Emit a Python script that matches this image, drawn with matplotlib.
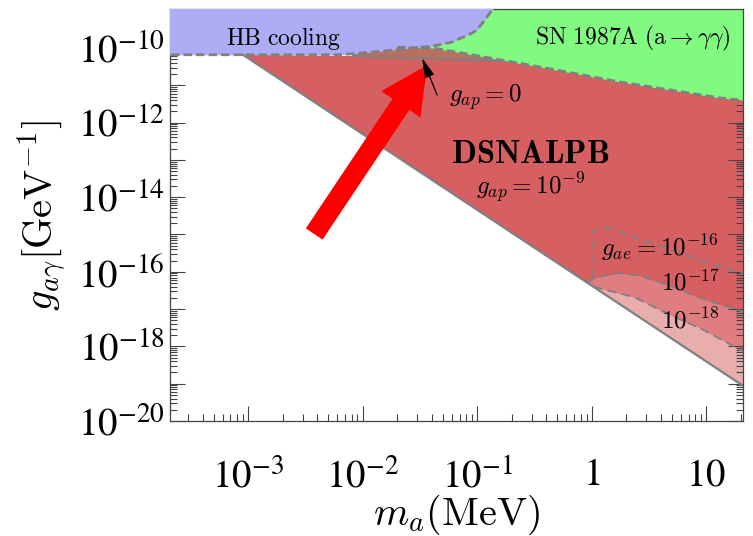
import numpy as np
import matplotlib
matplotlib.use("Agg")
import matplotlib.pyplot as plt
from matplotlib.ticker import LogLocator, FuncFormatter, NullFormatter

plt.rcParams["mathtext.fontset"] = "stix"
plt.rcParams["font.family"] = "STIXGeneral"

# axion mass (MeV) / photon coupling (GeV^-1) limits
M_MIN, M_MAX = 2.08e-4, 20.9
G_MIN, G_MAX = 1e-20, 1.09e-9

# HB cooling: lower edge of the excluded band
hb_m = [1e-4, 6.35e-3, 0.0123, 0.0244, 0.0411, 0.0603, 0.0865, 0.0996, 0.157]
hb_g = [6.6e-11, 6.6e-11, 7.8e-11, 9.7e-11, 1.13e-10, 1.45e-10, 2.37e-10, 3.04e-10, 1.94e-9]

# SN 1987A (a -> gamma gamma): lower edge
sn_m = [0.02, 0.0411, 0.0918, 0.182, 0.353, 1.76, 13.1, 30.0]
sn_g = [1.05e-10, 1.0e-10, 6.5e-11, 4.48e-11, 3.1e-11, 1.23e-11, 4.6e-12, 3.5e-12]

# DSNALPB reach: g_ap = 0 upper edge and the g_ap = 1e-9 diagonal
gap0_m = [8.24e-3, 0.0387, 0.158, 0.3]
gap0_g = [6.1e-11, 5.2e-11, 4.6e-11, 4.2e-11]
red_top_m = [9.0e-4, 8.24e-3, 0.0387, 0.158, 30.0]
red_top_g = [6.6e-11, 6.1e-11, 5.2e-11, 4.6e-11, 2.5e-11]
diag_m = [9.0e-4, 30.0]
diag_g = [6.6e-11, 4.2e-20]

# g_ae contours
gae16_m = [1.035, 1.035, 1.36, 3.29, 9.2, 19.2, 25.0]
gae16_g = [6.7e-17, 1.26e-15, 1.55e-15, 6.0e-16, 1.94e-16, 9.9e-17, 7.8e-17]
gae17_m = [0.917, 1.035, 1.67, 2.51, 4.63, 9.16, 19.4, 25.0]
gae17_g = [5.0e-17, 6.7e-17, 9.2e-17, 8.2e-17, 4.4e-17, 1.9e-17, 9.2e-18, 7.1e-18]
gae18_m = [1.035, 2.34, 4.63, 9.16, 19.4, 25.0]
gae18_g = [3.95e-17, 2.1e-17, 7.4e-18, 2.9e-18, 8.3e-19, 5.4e-19]

C_BLUE = "#adadf6"
C_GREEN = "#80fa80"
C_RED = "#d65f62"
C_RED2 = "#df7d80"
C_RED3 = "#e8adad"
C_BROWN = "#b9705f"
C_LINE = "#808080"


def diag_at(m):
    """g on the g_ap = 1e-9 diagonal (straight line in log-log)."""
    return 10 ** np.interp(np.log10(m), np.log10(diag_m), np.log10(diag_g))


fig = plt.figure(figsize=(7.53, 5.36), dpi=100)
ax = fig.add_axes([0.2258, 0.2146, 0.761, 0.768])
ax.set_xscale("log")
ax.set_yscale("log")

# DSNALPB main region
poly_m = list(red_top_m) + list(diag_m[::-1])
poly_g = list(red_top_g) + list(diag_g[::-1])
ax.fill(poly_m, poly_g, color=C_RED, lw=0, zorder=1)

# lighter bands for smaller g_ae
ax.fill_between(gae17_m, gae17_g, diag_at(gae17_m), color=C_RED2, lw=0, zorder=1.1)
ax.fill_between(gae18_m, gae18_g, diag_at(gae18_m), color=C_RED3, lw=0, zorder=1.2)

# sliver above the g_ap = 0 edge
ax.fill_between(gap0_m, gap0_g, 1.3e-10, color=C_BROWN, lw=0, zorder=1.3)
ax.plot(gap0_m, gap0_g, color=C_LINE, lw=1.6, zorder=1.4)

# SN 1987A and HB cooling
ax.fill_between(sn_m, sn_g, 1e-8, color=C_GREEN, lw=0, zorder=2)
ax.fill_between(hb_m, hb_g, 1e-8, color=C_BLUE, lw=0, zorder=3)
ax.plot(sn_m, sn_g, color=C_LINE, lw=2.0, ls=(0, (3, 1.5)), zorder=4)
ax.plot(hb_m, hb_g, color=C_LINE, lw=2.0, ls=(0, (3, 1.5)), zorder=4)

# contours and diagonal edge
for cm, cg in [(gae16_m, gae16_g), (gae17_m, gae17_g), (gae18_m, gae18_g)]:
    ax.plot(cm, cg, color=C_LINE, lw=1.3, ls=(0, (5, 3)), zorder=4)
ax.plot(diag_m, diag_g, color=C_LINE, lw=1.6, zorder=4)

ax.set_xlim(M_MIN, M_MAX)
ax.set_ylim(G_MIN, G_MAX)

# labels on the plot
tkw = dict(math_fontfamily="cm", ha="center", va="center", zorder=5)
ax.text(2.02e-3, 1.85e-10, r"$\mathrm{HB\ cooling}$", fontsize=17, **tkw)
ax.text(2.29, 1.86e-10, r"$\mathrm{SN\ 1987A\ (a}\rightarrow\gamma\gamma)$", fontsize=17, **tkw)
ax.text(0.119, 4.85e-12, r"$g_{ap}=0$", fontsize=18, **tkw)
ax.text(0.289, 1.35e-13, r"$\mathbf{DSNALPB}$", fontsize=23.5, **tkw)
ax.text(0.295, 1.8e-14, r"$g_{ap}=10^{-9}$", fontsize=18, **tkw)
ax.text(3.94, 4.4e-16, r"$g_{ae}=10^{-16}$", fontsize=18, **tkw)
ax.text(7.2, 5.0e-17, r"$10^{-17}$", fontsize=18, **tkw)
ax.text(7.2, 4.5e-18, r"$10^{-18}$", fontsize=18, **tkw)

# arrows
ax.annotate("", xy=(0.0365, 3.5e-11), xytext=(3.77e-3, 1.03e-15),
            arrowprops=dict(arrowstyle="simple,head_length=3.4,head_width=3.4,tail_width=1.45",
                            mutation_scale=10, color="red", lw=0,
                            shrinkA=0, shrinkB=0), zorder=6)
ax.annotate("", xy=(0.033, 5.4e-11), xytext=(0.0446, 5.5e-12),
            arrowprops=dict(arrowstyle="-|>,head_length=1.2,head_width=0.3",
                            mutation_scale=10, color="black", lw=0.9,
                            shrinkA=0, shrinkB=0), zorder=6)


# ticks
def x_fmt(v, pos):
    e = int(round(np.log10(v)))
    if e == 0:
        return r"$1$"
    if e == 1:
        return r"$10$"
    return r"$10^{%d}$" % e


def y_fmt(v, pos):
    e = int(round(np.log10(v)))
    return r"$10^{%d}$" % e if e % 2 == 0 else ""


ax.xaxis.set_major_locator(LogLocator(base=10, numticks=20))
ax.xaxis.set_minor_locator(LogLocator(base=10, subs=np.arange(2, 10), numticks=20))
ax.xaxis.set_major_formatter(FuncFormatter(x_fmt))
ax.xaxis.set_minor_formatter(NullFormatter())
ax.yaxis.set_major_locator(LogLocator(base=10, numticks=30))
ax.yaxis.set_minor_locator(LogLocator(base=10, subs=np.arange(2, 10), numticks=30))
ax.yaxis.set_major_formatter(FuncFormatter(y_fmt))
ax.yaxis.set_minor_formatter(NullFormatter())

ax.tick_params(which="both", direction="in", top=True, right=True, color="#444444", width=0.8)
ax.tick_params(which="major", length=11, labelsize=28)
ax.tick_params(which="minor", length=5)
ax.tick_params(axis="x", which="major", pad=27)
ax.tick_params(axis="y", which="major", pad=4)
for s in ax.spines.values():
    s.set_color("#444444")
    s.set_linewidth(0.9)

ax.set_xlabel(r"$m_a(\mathrm{MeV})$", fontsize=29, math_fontfamily="cm", labelpad=-2)
ax.set_ylabel(r"$g_{a\gamma}[\mathrm{GeV}^{-1}]$", fontsize=29, math_fontfamily="cm", labelpad=6)

fig.savefig("out.png", dpi=100)
